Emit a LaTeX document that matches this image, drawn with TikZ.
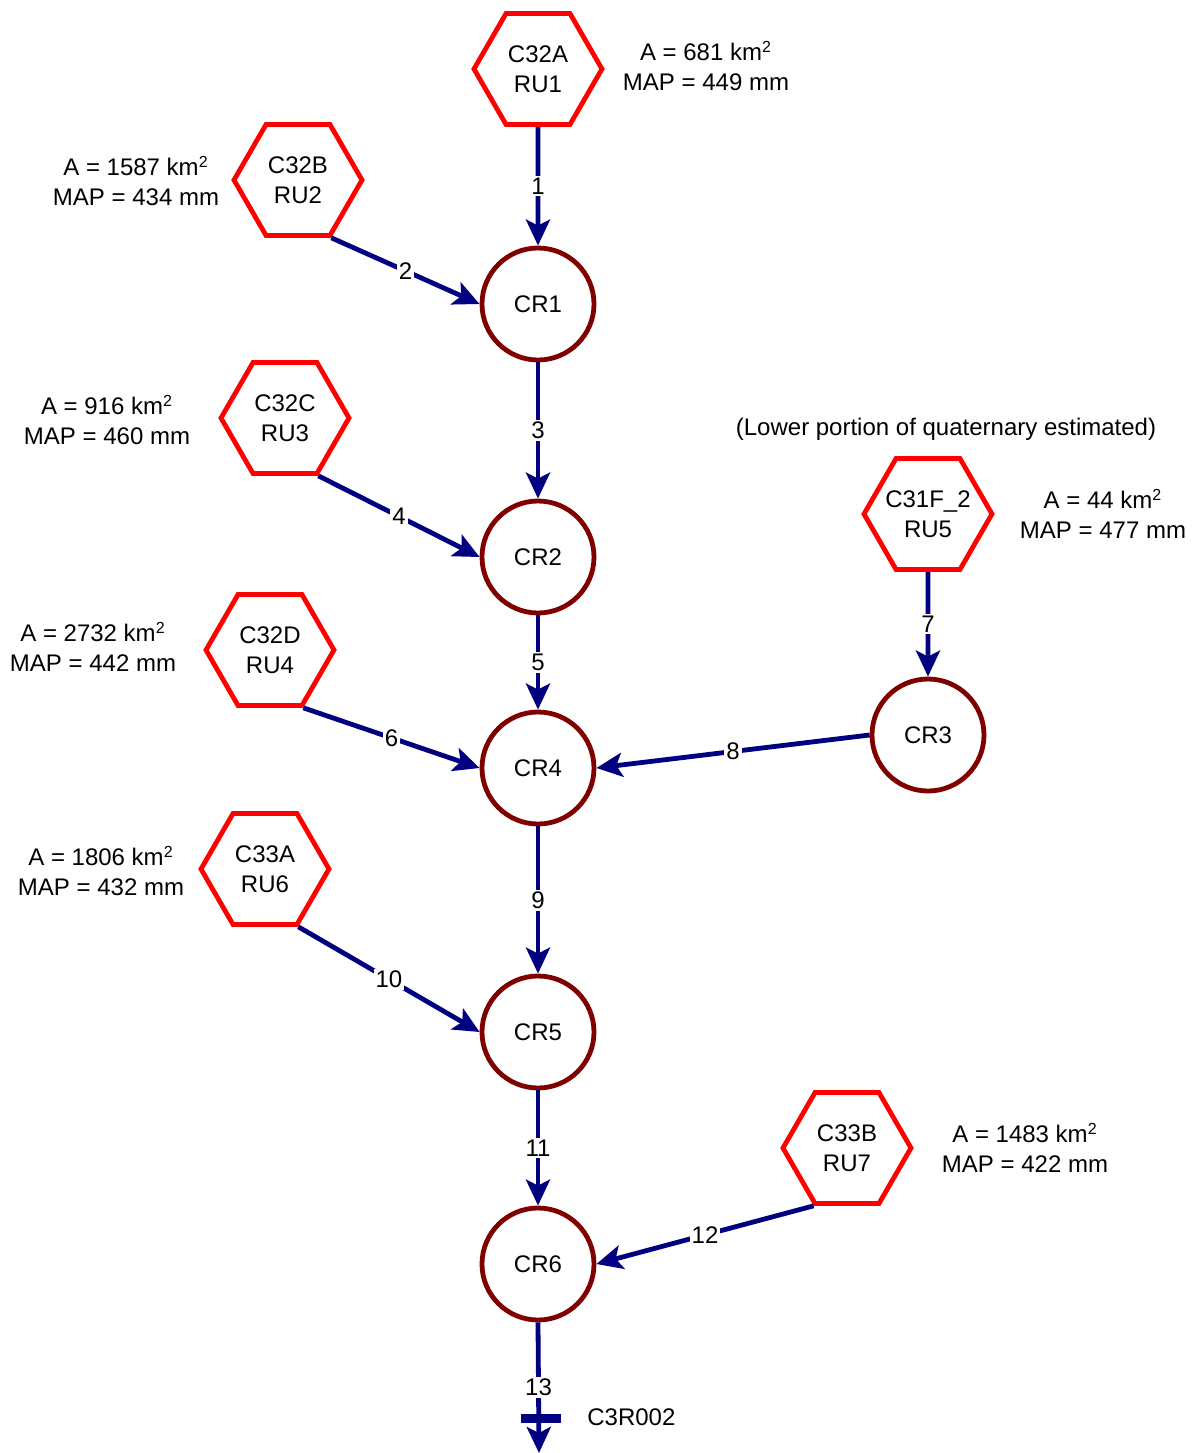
\documentclass[tikz,border=0pt]{standalone}
\usepackage{fontspec}
\setmainfont{Liberation Sans}
\usetikzlibrary{arrows.meta,shapes.geometric}
\definecolor{hexred}{RGB}{255,0,0}
\definecolor{reachred}{RGB}{128,0,0}
\definecolor{flowblue}{RGB}{0,0,128}

\begin{document}
\begin{tikzpicture}[x=0.5pt,y=-0.5pt,->,
  >={Stealth[length=13pt,width=12pt,inset=3pt]},
  every node/.style={font=\fontsize{12}{15}\selectfont},
  runit/.style={regular polygon,regular polygon sides=6,
    draw=hexred,line width=2.4pt,minimum size=64pt,inner sep=1pt,align=center},
  reach/.style={circle,draw=reachred,line width=2.4pt,minimum size=56pt,inner sep=0pt},
  info/.style={align=center,inner sep=0pt},
  flow/.style={every edge/.style={draw=flowblue,line width=2.4pt}},
  num/.style={fill=white,inner sep=1pt}]
%\tikzstyle{every edge}=[draw]
  \useasboundingbox (0,0) rectangle (1191,1453);

  \node[runit] (RU1) at (538,69)   {C32A\\RU1};
  \node[runit] (RU2) at (298,180)  {C32B\\RU2};
  \node[runit] (RU3) at (285,418)  {C32C\\RU3};
  \node[runit] (RU4) at (270,650)  {C32D\\RU4};
  \node[runit] (RU5) at (928,514)  {\makebox[0pt]{C31F\_2}\\RU5};
  \node[runit] (RU6) at (265,869)  {C33A\\RU6};
  \node[runit] (RU7) at (847,1148) {C33B\\RU7};

  \node[reach] (CR1) at (538,304)  {CR1};
  \node[reach] (CR2) at (538,557)  {CR2};
  \node[reach] (CR3) at (928,735)  {CR3};
  \node[reach] (CR4) at (538,768)  {CR4};
  \node[reach] (CR5) at (538,1032) {CR5};
  \node[reach] (CR6) at (538,1264) {CR6};

  \node[info] (I1) at (706,66)   {A = 681 km\textsuperscript{2}\\MAP = 449 mm};
  \node[info] (I2) at (136,181)  {A = 1587 km\textsuperscript{2}\\MAP = 434 mm};
  \node[info] (I3) at (107,420)  {A = 916 km\textsuperscript{2}\\MAP = 460 mm};
  \node[info] (I4) at (93,647)   {A = 2732 km\textsuperscript{2}\\MAP = 442 mm};
  \node[info] (I5) at (1103,514) {A = 44 km\textsuperscript{2}\\MAP = 477 mm};
  \node[info] (I6) at (101,871)  {A = 1806 km\textsuperscript{2}\\MAP = 432 mm};
  \node[info] (I7) at (1025,1148) {A = 1483 km\textsuperscript{2}\\MAP = 422 mm};
  \node (note) at (946,429) {(Lower portion of quaternary estimated)};

  \coordinate (outlet) at (539,1453);
  \node[fill=flowblue,minimum width=20pt,minimum height=4.5pt,inner sep=0pt] (bar) at (541,1418) {};
  \node[anchor=west,inner sep=0pt] (C3R002) at (587,1417) {C3R002};

  \path[flow] (RU1.south) edge node[num] {1}  (CR1.north)
              (RU2.-60)   edge node[num] {2}  (CR1.west)
              (CR1.south) edge node[num] {3}  (CR2.north)
              (RU3.-60)   edge node[num] {4}  (CR2.west)
              (CR2.south) edge node[num] {5}  (CR4.north)
              (RU4.-60)   edge node[num] {6}  (CR4.west)
              (RU5.south) edge node[num] {7}  (CR3.north)
              (CR3.west)  edge node[num] {8}  (CR4.east)
              (CR4.south) edge node[num] {9}  (CR5.north)
              (RU6.-60)   edge node[num] {10} (CR5.west)
              (CR5.south) edge node[num] {11} (CR6.north)
              (RU7.-120)  edge node[num] {12} (CR6.east)
              (CR6.south) edge node[num] {13} (outlet);
\end{tikzpicture}
\end{document}
